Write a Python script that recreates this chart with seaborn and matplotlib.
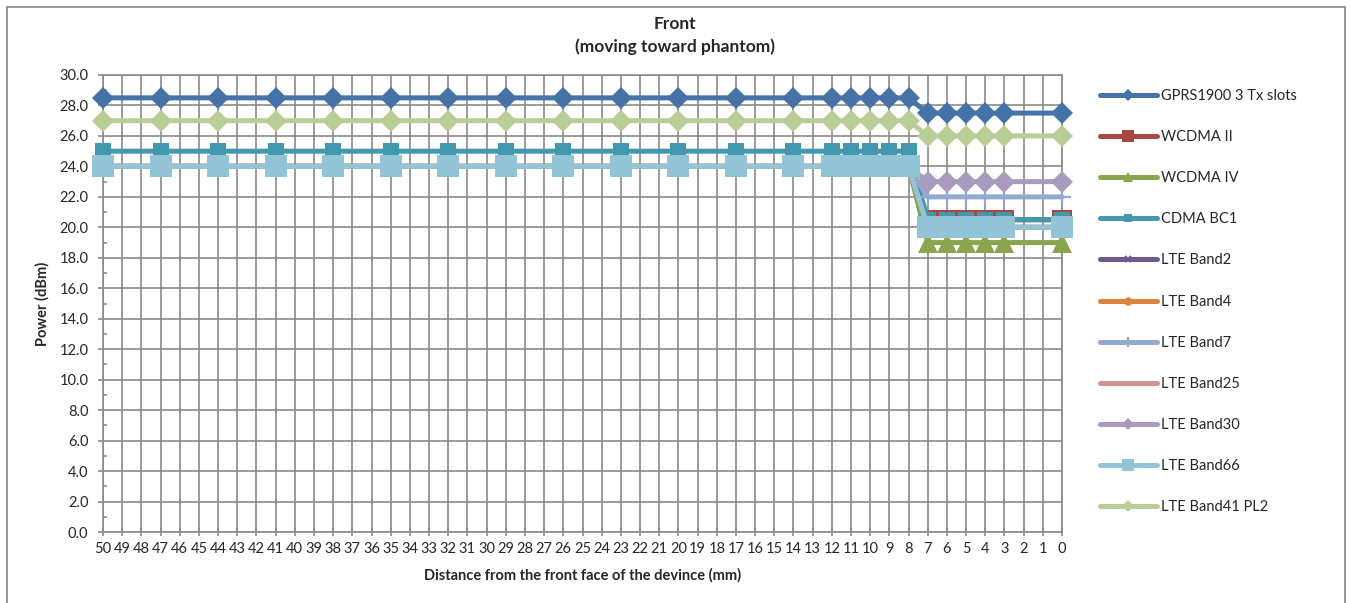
import numpy as np
import seaborn as sns
import matplotlib.pyplot as plt
from matplotlib.patches import Rectangle
from matplotlib.ticker import MultipleLocator, FormatStrFormatter

sns.set_style("white")
plt.rcParams['font.family'] = ['Lato', 'DejaVu Sans']

# distance from the front face (mm), only the measured points
distance = [50, 47, 44, 41, 38, 35, 32, 29, 26, 23, 20, 17, 14, 12, 11, 10, 9, 8, 7, 6, 5, 4, 3, 0]

gprs1900 = [28.5, 28.5, 28.5, 28.5, 28.5, 28.5, 28.5, 28.5, 28.5, 28.5, 28.5, 28.5, 28.5, 28.5, 28.5, 28.5, 28.5, 28.5,
            27.5, 27.5, 27.5, 27.5, 27.5, 27.5]
wcdma_ii = [24.0, 24.0, 24.0, 24.0, 24.0, 24.0, 24.0, 24.0, 24.0, 24.0, 24.0, 24.0, 24.0, 24.0, 24.0, 24.0, 24.0, 24.0,
            20.5, 20.5, 20.5, 20.5, 20.5, 20.5]
wcdma_iv = [24.0, 24.0, 24.0, 24.0, 24.0, 24.0, 24.0, 24.0, 24.0, 24.0, 24.0, 24.0, 24.0, 24.0, 24.0, 24.0, 24.0, 24.0,
            19.0, 19.0, 19.0, 19.0, 19.0, 19.0]
cdma_bc1 = [25.0, 25.0, 25.0, 25.0, 25.0, 25.0, 25.0, 25.0, 25.0, 25.0, 25.0, 25.0, 25.0, 25.0, 25.0, 25.0, 25.0, 25.0,
            20.5, 20.5, 20.5, 20.5, 20.5, 20.5]
lte_b2 = [24.0, 24.0, 24.0, 24.0, 24.0, 24.0, 24.0, 24.0, 24.0, 24.0, 24.0, 24.0, 24.0, 24.0, 24.0, 24.0, 24.0, 24.0,
          20.0, 20.0, 20.0, 20.0, 20.0, 20.0]
lte_b4 = [24.0, 24.0, 24.0, 24.0, 24.0, 24.0, 24.0, 24.0, 24.0, 24.0, 24.0, 24.0, 24.0, 24.0, 24.0, 24.0, 24.0, 24.0,
          20.0, 20.0, 20.0, 20.0, 20.0, 20.0]
lte_b7 = [24.0, 24.0, 24.0, 24.0, 24.0, 24.0, 24.0, 24.0, 24.0, 24.0, 24.0, 24.0, 24.0, 24.0, 24.0, 24.0, 24.0, 24.0,
          22.0, 22.0, 22.0, 22.0, 22.0, 22.0]
lte_b25 = [24.0, 24.0, 24.0, 24.0, 24.0, 24.0, 24.0, 24.0, 24.0, 24.0, 24.0, 24.0, 24.0, 24.0, 24.0, 24.0, 24.0, 24.0,
           20.0, 20.0, 20.0, 20.0, 20.0, 20.0]
lte_b30 = [24.0, 24.0, 24.0, 24.0, 24.0, 24.0, 24.0, 24.0, 24.0, 24.0, 24.0, 24.0, 24.0, 24.0, 24.0, 24.0, 24.0, 24.0,
           23.0, 23.0, 23.0, 23.0, 23.0, 23.0]
lte_b66 = [24.0, 24.0, 24.0, 24.0, 24.0, 24.0, 24.0, 24.0, 24.0, 24.0, 24.0, 24.0, 24.0, 24.0, 24.0, 24.0, 24.0, 24.0,
           20.0, 20.0, 20.0, 20.0, 20.0, 20.0]
lte_b41 = [27.0, 27.0, 27.0, 27.0, 27.0, 27.0, 27.0, 27.0, 27.0, 27.0, 27.0, 27.0, 27.0, 27.0, 27.0, 27.0, 27.0, 27.0,
           26.0, 26.0, 26.0, 26.0, 26.0, 26.0]

names = ["GPRS1900 3 Tx slots", "WCDMA II", "WCDMA IV", "CDMA BC1", "LTE Band2", "LTE Band4",
         "LTE Band7", "LTE Band25", "LTE Band30", "LTE Band66", "LTE Band41 PL2"]
series = [gprs1900, wcdma_ii, wcdma_iv, cdma_bc1, lte_b2, lte_b4, lte_b7, lte_b25, lte_b30, lte_b66, lte_b41]

# excel 2007 style
colors = ["#4572A7", "#AA4643", "#89A54E", "#4198AF", "#71588F", "#DB843D",
          "#93A9CF", "#D19392", "#A99BBD", "#92C4D6", "#B9CD96"]
markers = ["D", "s", "^", "s", "x", "o", "+", "", "D", "s", "D"]
msizes = [11, 15, 14, 11.5, 9, 11, 13, 0, 11, 15.5, 11]

fig = plt.figure(figsize=(13.5, 6.03), dpi=100)
ax = fig.add_axes([103 / 1350, 1 - 532 / 603, (1062 - 103) / 1350, (532 - 75) / 603])

for i in range(len(series)):
    mew = 1.6 if markers[i] in ("x", "+") else 0
    sns.lineplot(x=distance, y=series[i], ax=ax, color=colors[i], lw=3.6, sort=False,
                 marker=markers[i] if markers[i] else None, markersize=msizes[i],
                 markeredgewidth=mew, markeredgecolor=colors[i],
                 label=names[i], clip_on=False, zorder=3 + i)

if ax.get_legend() is not None:
    ax.get_legend().remove()

ax.set_xlim(50, 0)
ax.set_ylim(0, 30)
ax.xaxis.set_major_locator(MultipleLocator(1))
ax.yaxis.set_major_locator(MultipleLocator(2))
ax.yaxis.set_minor_locator(MultipleLocator(1))
ax.yaxis.set_major_formatter(FormatStrFormatter("%.1f"))

grid_c = "#8a8a8a"
ax.set_axisbelow(True)
ax.grid(True, which="major", color=grid_c, lw=1.2)
for s in ax.spines.values():
    s.set_color(grid_c)
    s.set_linewidth(1.2)

ax.tick_params(axis="x", which="major", direction="inout", length=6, width=1.2, color=grid_c,
               labelsize=10.5, pad=4, bottom=True)
ax.tick_params(axis="y", which="major", direction="out", length=3.5, width=1.2, color=grid_c,
               labelsize=10.5, pad=7, left=True)
ax.tick_params(axis="y", which="minor", direction="in", length=3, width=1.2, color=grid_c, left=True)

ax.set_xlabel("Distance from the front face of the devince (mm)", fontsize=10.5, fontweight="bold", labelpad=9)
ax.set_ylabel("Power (dBm)", fontsize=10.5, fontweight="bold", labelpad=7)

fig.text(0.5, 1 - 24 / 603, "Front", ha="center", va="center", fontsize=12.5, fontweight="bold")
fig.text(0.5, 1 - 46.5 / 603, "(moving toward phantom)", ha="center", va="center", fontsize=12.5, fontweight="bold")

handles, labels = ax.get_legend_handles_labels()
fig.legend(handles, labels, loc="upper left", bbox_to_anchor=(1100 / 1350, 1 - 89 / 603),
           frameon=False, fontsize=10.5, handlelength=3.9, handletextpad=0.25,
           labelspacing=1.86, borderpad=0, borderaxespad=0, markerscale=0.55)

fig.patches.append(Rectangle((7 / 1350, -0.05), (1345 - 7) / 1350, 1.05 - 7 / 603,
                             transform=fig.transFigure, fill=False, edgecolor="#868686", lw=1.2))

fig.savefig("out.png", dpi=100)
